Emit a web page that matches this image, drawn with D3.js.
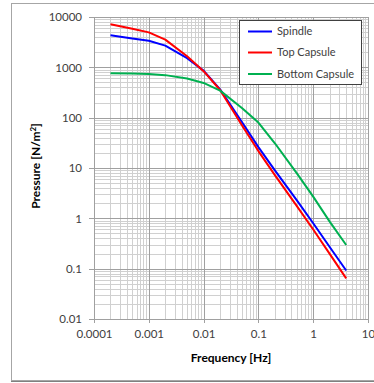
<!DOCTYPE html>
<html>
<head>
<meta charset="utf-8">
<script src="https://cdn.jsdelivr.net/npm/d3@7"></script>
<style>
  html, body { margin: 0; padding: 0; background: #fff; }
  svg { display: block; }
</style>
</head>
<body>
<svg id="chart" width="374" height="383"></svg>
<script>
// ---- data ----
const frequencies = [0.0002, 0.0005, 0.001, 0.002, 0.005, 0.01, 0.02, 0.05, 0.1, 0.2, 0.5, 1, 2, 4];
const spindle       = [4330, 3750, 3380, 2700, 1520, 860, 365, 82, 26, 9.0, 2.3, 0.8, 0.27, 0.092];
const topCapsule    = [7170, 5850, 4950, 3550, 1660, 840, 355, 71, 21.7, 7.2, 1.77, 0.60, 0.197, 0.064];
const bottomCapsule = [764, 755, 740, 700, 600, 490, 345, 155, 80, 31, 7.9, 2.7, 0.86, 0.295];
const seriesNames = ["Spindle", "Top Capsule", "Bottom Capsule"];
const seriesColors = ["#0000ff", "#ff0000", "#00b050"];
const xTickValues = [0.0001, 0.001, 0.01, 0.1, 1, 10];
const xTickLabels = ["0.0001", "0.001", "0.01", "0.1", "1", "10"];
const yTickValues = [0.01, 0.1, 1, 10, 100, 1000, 10000];
const yTickLabels = ["0.01", "0.1", "1", "10", "100", "1000", "10000"];
const xTitle = "Frequency [Hz]";

(function () {
// ---- layout ----
const svg = d3.select("#chart");
const pL = 94, pR = 368, pT = 17, pB = 319;
const x = d3.scaleLog().domain([0.0001, 10]).range([pL, pR]);
const y = d3.scaleLog().domain([0.01, 10000]).range([pB, pT]);
const font = "Lato, 'Open Sans', sans-serif";

// outer chart frame
svg.append("rect").attr("x", 11.5).attr("y", 3.5).attr("width", 380).attr("height", 377)
  .attr("fill", "#fff").attr("stroke", "#a6a6a6").attr("stroke-width", 1);
svg.append("line").attr("x1", 11).attr("x2", 374).attr("y1", 381.5).attr("y2", 381.5)
  .attr("stroke", "#808080").attr("stroke-width", 1);

// minor gridlines
const minorX = [], minorY = [];
for (let e = -4; e < 1; e++) for (let m = 2; m <= 9; m++) minorX.push(m * Math.pow(10, e));
for (let e = -2; e < 4; e++) for (let m = 2; m <= 9; m++) minorY.push(m * Math.pow(10, e));
const grid = svg.append("g");
grid.selectAll(".mx").data(minorX).join("line")
  .attr("x1", d => Math.round(x(d)) + 0.5).attr("x2", d => Math.round(x(d)) + 0.5)
  .attr("y1", pT).attr("y2", pB).attr("stroke", "#d0d0d0").attr("stroke-width", 1);
grid.selectAll(".my").data(minorY).join("line")
  .attr("y1", d => Math.round(y(d)) + 0.5).attr("y2", d => Math.round(y(d)) + 0.5)
  .attr("x1", pL).attr("x2", pR).attr("stroke", "#d0d0d0").attr("stroke-width", 1);
// major gridlines
grid.selectAll(".Mx").data(xTickValues).join("line")
  .attr("x1", d => Math.round(x(d)) + 0.5).attr("x2", d => Math.round(x(d)) + 0.5)
  .attr("y1", pT).attr("y2", pB + 4).attr("stroke", "#a0a0a0").attr("stroke-width", 1);
grid.selectAll(".My").data(yTickValues).join("line")
  .attr("y1", d => Math.round(y(d)) + 0.5).attr("y2", d => Math.round(y(d)) + 0.5)
  .attr("x1", pL - 5).attr("x2", pR).attr("stroke", "#a0a0a0").attr("stroke-width", 1);

// axes labels
const yAxis = d3.axisLeft(y).tickValues(yTickValues).tickFormat((d, i) => yTickLabels[i]).tickSize(0).tickPadding(12);
const gy = svg.append("g").attr("transform", `translate(${pL},0)`).call(yAxis);
gy.select(".domain").remove();
gy.selectAll("text").attr("font-family", font).attr("font-size", 11.5).attr("fill", "#404040");

const xAxis = d3.axisBottom(x).tickValues(xTickValues).tickFormat((d, i) => xTickLabels[i]).tickSize(0).tickPadding(11);
const gx = svg.append("g").attr("transform", `translate(0,${pB})`).call(xAxis);
gx.select(".domain").remove();
gx.selectAll("text").attr("font-family", font).attr("font-size", 11.5).attr("fill", "#404040");

// titles
svg.append("text").attr("x", (pL + pR) / 2).attr("y", 362)
  .attr("text-anchor", "middle").attr("font-family", font).attr("font-size", 12)
  .attr("font-weight", "bold").attr("fill", "#000").text(xTitle);
const yt = svg.append("text").attr("transform", "translate(40,166) rotate(-90)")
  .attr("text-anchor", "middle").attr("font-family", font).attr("font-size", 12)
  .attr("font-weight", "bold").attr("fill", "#000");
yt.append("tspan").text("Pressure [N/m");
yt.append("tspan").attr("font-size", 8).attr("dy", -4).text("2");
yt.append("tspan").attr("dy", 4).text("]");

// series
const allSeries = [spindle, topCapsule, bottomCapsule];
const line = d3.line().x(d => x(d[0])).y(d => y(d[1]));
allSeries.forEach((vals, i) => {
  svg.append("path").datum(frequencies.map((f, j) => [f, vals[j]]))
    .attr("d", line).attr("fill", "none").attr("stroke", seriesColors[i])
    .attr("stroke-width", 2).attr("stroke-linejoin", "round");
});

// legend
const lg = svg.append("g");
lg.append("rect").attr("x", 239.5).attr("y", 20.5).attr("width", 122).attr("height", 64)
  .attr("fill", "#fff").attr("stroke", "#404040").attr("stroke-width", 1);
const ly = [31.5, 52.5, 74];
seriesNames.forEach((name, i) => {
  lg.append("line").attr("x1", 248).attr("x2", 272).attr("y1", ly[i]).attr("y2", ly[i])
    .attr("stroke", seriesColors[i]).attr("stroke-width", 2);
  lg.append("text").attr("x", 277).attr("y", ly[i]).attr("dy", "0.35em")
    .attr("font-family", font).attr("font-size", 11).attr("fill", "#404040").text(name);
});
})();
</script>
</body>
</html>
